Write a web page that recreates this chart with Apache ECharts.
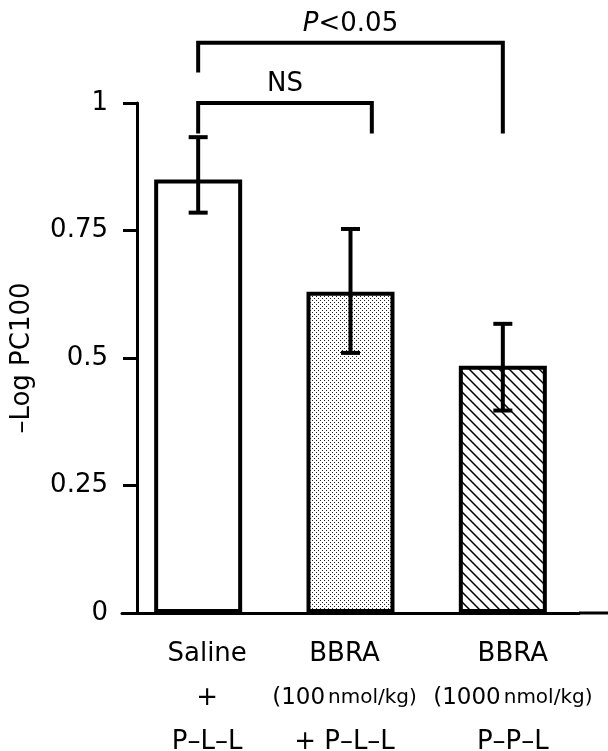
<!DOCTYPE html>
<html><head><meta charset="utf-8">
<script src="https://cdn.jsdelivr.net/npm/echarts@6/dist/echarts.min.js"></script>
<style>html,body{margin:0;padding:0;background:#fff}#c{width:608px;height:751px}</style>
</head><body><div id="c"></div>
<script>
// ---- data ----
const categories = [
  ['Saline', '+', 'P–L–L'],
  ['BBRA', '(100 nmol/kg)', '+ P–L–L'],
  ['BBRA', '(1000 nmol/kg)', 'P–P–L']
];
const means   = [0.85, 0.63, 0.485];
const errLow  = [0.785, 0.51, 0.397];
const errHigh = [0.933, 0.753, 0.567];
const yTicks  = [0, 0.25, 0.5, 0.75, 1];
const yName   = '–Log PC100';
const bracketLabels = ['NS', 'P<0.05'];
const bracketFrom   = [0, 0];
const bracketTo     = [1, 2];
const bracketLevel  = [1.0, 1.118];
const bracketLegFrom = [0.94, 1.06];
const bracketLegTo   = [0.94, 0.94];

// ---- style ----
const FONT = 'DejaVu Sans';
const FS = 26;
const G = {left: 122, top: 103, width: 457, height: 510};
const Y_AXIS_X = 137;
const bracketToShift = [0.14, 0]; // fraction of band
const labelPad = [[0, 0, 0, 18], [0, 12, 0, 0], [0, 0, 0, 20]]; // fine shifts of category labels
function dotPattern() {
  const c = document.createElement('canvas'); c.width = 4; c.height = 4;
  const g = c.getContext('2d');
  g.fillStyle = '#fff'; g.fillRect(0, 0, 4, 4);
  g.fillStyle = '#222'; g.fillRect(0, 0, 1, 1); g.fillRect(2, 2, 1, 1);
  return c;
}
function hatchPattern() {
  const s = 10;
  const c = document.createElement('canvas'); c.width = s; c.height = s;
  const g = c.getContext('2d');
  g.fillStyle = '#fff'; g.fillRect(0, 0, s, s);
  g.strokeStyle = '#000'; g.lineWidth = 1.5;
  g.beginPath();
  g.moveTo(-2, -2); g.lineTo(s + 2, s + 2);
  g.moveTo(-2, s - 2); g.lineTo(2, s + 2);
  g.moveTo(s - 2, -2); g.lineTo(s + 2, 2);
  g.stroke();
  return c;
}
const fills = ['#ffffff', {image: dotPattern(), repeat: 'repeat'}, {image: hatchPattern(), repeat: 'repeat'}];

function fmtCat(value) {
  return value.split('\n').map(function (line) {
    const m = line.match(/^\((\d+)\s*(nmol\/kg)\)$/);
    if (m) return '{d|(' + m[1] + '}{s|' + m[2] + ')}';
    return '{t|' + line + '}';
  }).join('\n');
}

const chart = echarts.init(document.getElementById('c'), null, {renderer: 'canvas'});
chart.setOption({
  animation: false,
  backgroundColor: '#fff',
  grid: {left: G.left, top: G.top, width: G.width, height: G.height, containLabel: false, outerBoundsMode: 'none'},
  xAxis: {
    type: 'category',
    data: categories.map(function (c, i) {
      return {value: c.join('\n'), textStyle: {padding: labelPad[i]}};
    }),
    axisLine: {lineStyle: {color: '#000', width: 3}},
    axisTick: {alignWithLabel: true, length: 14, lineStyle: {color: '#000', width: 3}},
    axisLabel: {
      interval: 0, hideOverlap: false,
      margin: 19, color: '#000', fontFamily: FONT, fontSize: FS, lineHeight: 44,
      formatter: fmtCat,
      rich: {
        t: {fontFamily: FONT, fontSize: FS, lineHeight: 44, color: '#000'},
        d: {fontFamily: FONT, fontSize: 23, lineHeight: 44, color: '#000'},
        s: {fontFamily: FONT, fontSize: 20, lineHeight: 44, color: '#000', padding: [0, 0, 0, 3]}
      }
    },
    splitLine: {show: false}
  },
  yAxis: {
    type: 'value', min: yTicks[0], max: yTicks[yTicks.length - 1], interval: yTicks[1] - yTicks[0],
    offset: G.left - Y_AXIS_X,
    axisLine: {show: true, lineStyle: {color: '#000', width: 3}},
    axisTick: {show: true, length: 14, lineStyle: {color: '#000', width: 3}},
    axisLabel: {margin: 29, color: '#000', fontFamily: FONT, fontSize: FS},
    splitLine: {show: false},
    name: yName, nameLocation: 'middle', nameRotate: 90, nameGap: 102,
    nameTextStyle: {color: '#000', fontFamily: FONT, fontSize: FS}
  },
  series: [
    {
      type: 'bar', barWidth: 88,
      data: means.map(function (v, i) {
        return {value: v, itemStyle: {color: fills[i], borderColor: '#000', borderWidth: 4}};
      }),
      z: 2
    },
    {
      type: 'custom', z: 3, clip: false,
      data: means.map(function (_, i) { return [i, errLow[i], errHigh[i]]; }),
      renderItem: function (params, api) {
        const i = api.value(0);
        const lo = api.coord([i, api.value(1)]);
        const hi = api.coord([i, api.value(2)]);
        const h = 9.5;
        const st = {stroke: '#000', lineWidth: 4};
        return {type: 'group', children: [
          {type: 'line', shape: {x1: lo[0], y1: lo[1], x2: hi[0], y2: hi[1]}, style: st},
          {type: 'line', shape: {x1: lo[0] - h, y1: lo[1], x2: lo[0] + h, y2: lo[1]}, style: st},
          {type: 'line', shape: {x1: hi[0] - h, y1: hi[1], x2: hi[0] + h, y2: hi[1]}, style: st}
        ]};
      }
    },
    {
      type: 'custom', z: 3, clip: false,
      data: bracketLabels.map(function (_, k) {
        return [bracketFrom[k], bracketTo[k], bracketLevel[k], bracketLegFrom[k], bracketLegTo[k], k];
      }),
      renderItem: function (params, api) {
        const k = api.value(5);
        const band = api.size([1, 0])[0];
        const x1 = api.coord([api.value(0), api.value(2)])[0];
        const x2 = api.coord([api.value(1), api.value(2)])[0] + bracketToShift[k] * band;
        const yL = api.coord([0, api.value(2)])[1];
        const yA = api.coord([0, api.value(3)])[1];
        const yB = api.coord([0, api.value(4)])[1];
        const label = bracketLabels[k];
        const txt = label.charAt(0) === 'P' ? '{i|P}{n|' + label.slice(1) + '}' : '{n|' + label + '}';
        return {type: 'group', children: [
          {type: 'polyline', shape: {points: [[x1, yA], [x1, yL], [x2, yL], [x2, yB]]},
           style: {stroke: '#000', lineWidth: 4, fill: null}},
          {type: 'text', x: (x1 + x2) / 2, y: yL - 6,
           style: {text: txt, align: 'center', verticalAlign: 'bottom', fill: '#000',
                   fontFamily: FONT, fontSize: FS,
                   rich: {i: {fontStyle: 'italic', fontFamily: FONT, fontSize: FS, fill: '#000'},
                          n: {fontFamily: FONT, fontSize: FS, fill: '#000'}}}}
        ]};
      }
    }
  ],
  graphic: [{
    type: 'line', silent: true,
    shape: {x1: G.left + G.width, y1: G.top + G.height, x2: 608, y2: G.top + G.height},
    style: {stroke: '#000', lineWidth: 3}
  }]
});
</script>
</body></html>
